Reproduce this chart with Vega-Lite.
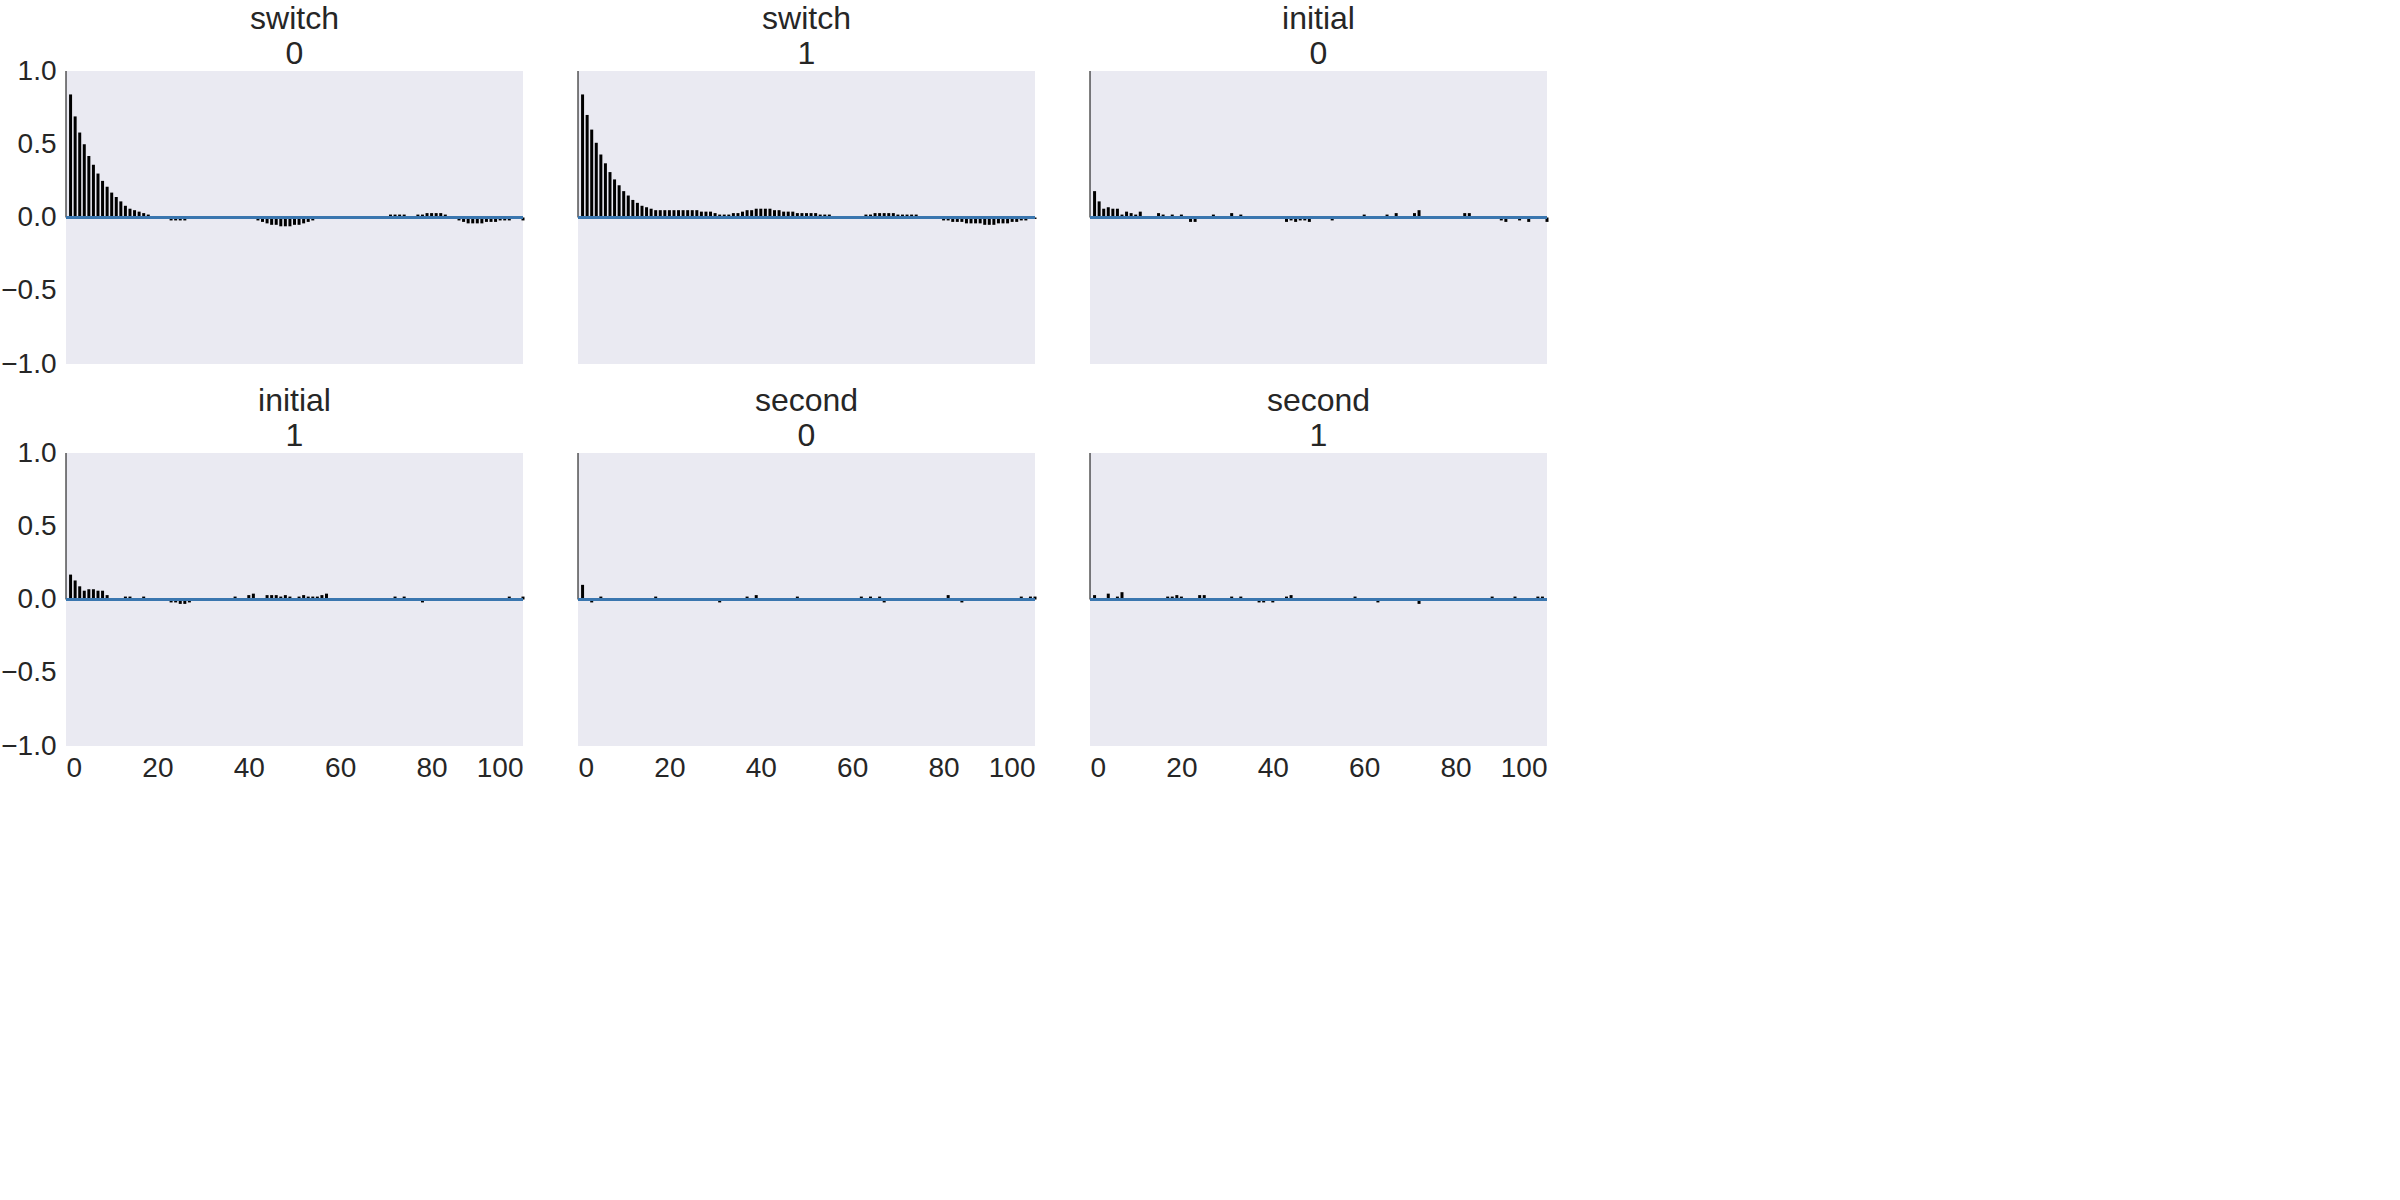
{
  "$schema": "https://vega.github.io/schema/vega-lite/v6.json",
  "padding": {"left": 0, "top": 2, "right": 10, "bottom": 0},
  "datasets": {
    "acf": [
{"p":"switch|0","l":0,"v":1},{"p":"switch|0","l":1,"v":0.84},{"p":"switch|0","l":2,"v":0.69},{"p":"switch|0","l":3,"v":0.58},{"p":"switch|0","l":4,"v":0.5},{"p":"switch|0","l":5,"v":0.42},{"p":"switch|0","l":6,"v":0.36},{"p":"switch|0","l":7,"v":0.3},{"p":"switch|0","l":8,"v":0.25},{"p":"switch|0","l":9,"v":0.21},{"p":"switch|0","l":10,"v":0.17},
{"p":"switch|0","l":11,"v":0.14},{"p":"switch|0","l":12,"v":0.11},{"p":"switch|0","l":13,"v":0.08},{"p":"switch|0","l":14,"v":0.06},{"p":"switch|0","l":15,"v":0.05},{"p":"switch|0","l":16,"v":0.04},{"p":"switch|0","l":17,"v":0.03},{"p":"switch|0","l":18,"v":0.02},{"p":"switch|0","l":19,"v":0.01},{"p":"switch|0","l":20,"v":0.01},
{"p":"switch|0","l":21,"v":0},{"p":"switch|0","l":22,"v":-0.01},{"p":"switch|0","l":23,"v":-0.02},{"p":"switch|0","l":24,"v":-0.02},{"p":"switch|0","l":25,"v":-0.02},{"p":"switch|0","l":26,"v":-0.02},{"p":"switch|0","l":27,"v":-0.01},{"p":"switch|0","l":28,"v":0},{"p":"switch|0","l":29,"v":0.01},{"p":"switch|0","l":30,"v":0.01},
{"p":"switch|0","l":31,"v":0.01},{"p":"switch|0","l":32,"v":0},{"p":"switch|0","l":33,"v":0},{"p":"switch|0","l":34,"v":0},{"p":"switch|0","l":35,"v":0},{"p":"switch|0","l":36,"v":0.01},{"p":"switch|0","l":37,"v":0.01},{"p":"switch|0","l":38,"v":0.01},{"p":"switch|0","l":39,"v":0},{"p":"switch|0","l":40,"v":0},
{"p":"switch|0","l":41,"v":-0.01},{"p":"switch|0","l":42,"v":-0.02},{"p":"switch|0","l":43,"v":-0.03},{"p":"switch|0","l":44,"v":-0.04},{"p":"switch|0","l":45,"v":-0.05},{"p":"switch|0","l":46,"v":-0.05},{"p":"switch|0","l":47,"v":-0.06},{"p":"switch|0","l":48,"v":-0.06},{"p":"switch|0","l":49,"v":-0.06},{"p":"switch|0","l":50,"v":-0.05},
{"p":"switch|0","l":51,"v":-0.05},{"p":"switch|0","l":52,"v":-0.04},{"p":"switch|0","l":53,"v":-0.03},{"p":"switch|0","l":54,"v":-0.02},{"p":"switch|0","l":55,"v":-0.01},{"p":"switch|0","l":56,"v":0},{"p":"switch|0","l":57,"v":0.01},{"p":"switch|0","l":58,"v":0.01},{"p":"switch|0","l":59,"v":0.01},{"p":"switch|0","l":60,"v":0},
{"p":"switch|0","l":61,"v":0},{"p":"switch|0","l":62,"v":0},{"p":"switch|0","l":63,"v":0},{"p":"switch|0","l":64,"v":0},{"p":"switch|0","l":65,"v":0},{"p":"switch|0","l":66,"v":0},{"p":"switch|0","l":67,"v":0},{"p":"switch|0","l":68,"v":0.01},{"p":"switch|0","l":69,"v":0.01},{"p":"switch|0","l":70,"v":0.01},
{"p":"switch|0","l":71,"v":0.02},{"p":"switch|0","l":72,"v":0.02},{"p":"switch|0","l":73,"v":0.02},{"p":"switch|0","l":74,"v":0.02},{"p":"switch|0","l":75,"v":0.01},{"p":"switch|0","l":76,"v":0.01},{"p":"switch|0","l":77,"v":0.02},{"p":"switch|0","l":78,"v":0.02},{"p":"switch|0","l":79,"v":0.03},{"p":"switch|0","l":80,"v":0.03},
{"p":"switch|0","l":81,"v":0.03},{"p":"switch|0","l":82,"v":0.03},{"p":"switch|0","l":83,"v":0.02},{"p":"switch|0","l":84,"v":0.01},{"p":"switch|0","l":85,"v":0},{"p":"switch|0","l":86,"v":-0.02},{"p":"switch|0","l":87,"v":-0.03},{"p":"switch|0","l":88,"v":-0.04},{"p":"switch|0","l":89,"v":-0.04},{"p":"switch|0","l":90,"v":-0.04},
{"p":"switch|0","l":91,"v":-0.04},{"p":"switch|0","l":92,"v":-0.03},{"p":"switch|0","l":93,"v":-0.03},{"p":"switch|0","l":94,"v":-0.03},{"p":"switch|0","l":95,"v":-0.02},{"p":"switch|0","l":96,"v":-0.02},{"p":"switch|0","l":97,"v":-0.02},{"p":"switch|0","l":98,"v":-0.01},{"p":"switch|0","l":99,"v":-0.01},{"p":"switch|0","l":100,"v":-0.02},

{"p":"switch|1","l":0,"v":1},{"p":"switch|1","l":1,"v":0.84},{"p":"switch|1","l":2,"v":0.7},{"p":"switch|1","l":3,"v":0.6},{"p":"switch|1","l":4,"v":0.51},{"p":"switch|1","l":5,"v":0.43},{"p":"switch|1","l":6,"v":0.37},{"p":"switch|1","l":7,"v":0.31},{"p":"switch|1","l":8,"v":0.26},{"p":"switch|1","l":9,"v":0.22},{"p":"switch|1","l":10,"v":0.18},
{"p":"switch|1","l":11,"v":0.15},{"p":"switch|1","l":12,"v":0.12},{"p":"switch|1","l":13,"v":0.1},{"p":"switch|1","l":14,"v":0.08},{"p":"switch|1","l":15,"v":0.07},{"p":"switch|1","l":16,"v":0.06},{"p":"switch|1","l":17,"v":0.05},{"p":"switch|1","l":18,"v":0.05},{"p":"switch|1","l":19,"v":0.05},{"p":"switch|1","l":20,"v":0.05},
{"p":"switch|1","l":21,"v":0.05},{"p":"switch|1","l":22,"v":0.05},{"p":"switch|1","l":23,"v":0.05},{"p":"switch|1","l":24,"v":0.05},{"p":"switch|1","l":25,"v":0.05},{"p":"switch|1","l":26,"v":0.05},{"p":"switch|1","l":27,"v":0.04},{"p":"switch|1","l":28,"v":0.04},{"p":"switch|1","l":29,"v":0.04},{"p":"switch|1","l":30,"v":0.03},
{"p":"switch|1","l":31,"v":0.02},{"p":"switch|1","l":32,"v":0.02},{"p":"switch|1","l":33,"v":0.02},{"p":"switch|1","l":34,"v":0.03},{"p":"switch|1","l":35,"v":0.03},{"p":"switch|1","l":36,"v":0.04},{"p":"switch|1","l":37,"v":0.05},{"p":"switch|1","l":38,"v":0.05},{"p":"switch|1","l":39,"v":0.06},{"p":"switch|1","l":40,"v":0.06},
{"p":"switch|1","l":41,"v":0.06},{"p":"switch|1","l":42,"v":0.06},{"p":"switch|1","l":43,"v":0.05},{"p":"switch|1","l":44,"v":0.05},{"p":"switch|1","l":45,"v":0.04},{"p":"switch|1","l":46,"v":0.04},{"p":"switch|1","l":47,"v":0.04},{"p":"switch|1","l":48,"v":0.03},{"p":"switch|1","l":49,"v":0.03},{"p":"switch|1","l":50,"v":0.03},
{"p":"switch|1","l":51,"v":0.03},{"p":"switch|1","l":52,"v":0.03},{"p":"switch|1","l":53,"v":0.02},{"p":"switch|1","l":54,"v":0.02},{"p":"switch|1","l":55,"v":0.02},{"p":"switch|1","l":56,"v":0.01},{"p":"switch|1","l":57,"v":0.01},{"p":"switch|1","l":58,"v":0.01},{"p":"switch|1","l":59,"v":0.01},{"p":"switch|1","l":60,"v":0.01},
{"p":"switch|1","l":61,"v":0.01},{"p":"switch|1","l":62,"v":0.01},{"p":"switch|1","l":63,"v":0.02},{"p":"switch|1","l":64,"v":0.02},{"p":"switch|1","l":65,"v":0.03},{"p":"switch|1","l":66,"v":0.03},{"p":"switch|1","l":67,"v":0.03},{"p":"switch|1","l":68,"v":0.03},{"p":"switch|1","l":69,"v":0.03},{"p":"switch|1","l":70,"v":0.02},
{"p":"switch|1","l":71,"v":0.02},{"p":"switch|1","l":72,"v":0.02},{"p":"switch|1","l":73,"v":0.02},{"p":"switch|1","l":74,"v":0.02},{"p":"switch|1","l":75,"v":0.01},{"p":"switch|1","l":76,"v":0.01},{"p":"switch|1","l":77,"v":0},{"p":"switch|1","l":78,"v":-0.01},{"p":"switch|1","l":79,"v":-0.01},{"p":"switch|1","l":80,"v":-0.02},
{"p":"switch|1","l":81,"v":-0.02},{"p":"switch|1","l":82,"v":-0.03},{"p":"switch|1","l":83,"v":-0.03},{"p":"switch|1","l":84,"v":-0.03},{"p":"switch|1","l":85,"v":-0.04},{"p":"switch|1","l":86,"v":-0.04},{"p":"switch|1","l":87,"v":-0.04},{"p":"switch|1","l":88,"v":-0.04},{"p":"switch|1","l":89,"v":-0.05},{"p":"switch|1","l":90,"v":-0.05},
{"p":"switch|1","l":91,"v":-0.05},{"p":"switch|1","l":92,"v":-0.04},{"p":"switch|1","l":93,"v":-0.04},{"p":"switch|1","l":94,"v":-0.04},{"p":"switch|1","l":95,"v":-0.03},{"p":"switch|1","l":96,"v":-0.03},{"p":"switch|1","l":97,"v":-0.02},{"p":"switch|1","l":98,"v":-0.02},{"p":"switch|1","l":99,"v":-0.01},{"p":"switch|1","l":100,"v":-0.01},

{"p":"initial|0","l":0,"v":1},{"p":"initial|0","l":1,"v":0.18},{"p":"initial|0","l":2,"v":0.11},{"p":"initial|0","l":3,"v":0.06},{"p":"initial|0","l":4,"v":0.07},{"p":"initial|0","l":5,"v":0.06},{"p":"initial|0","l":6,"v":0.06},{"p":"initial|0","l":7,"v":0.02},{"p":"initial|0","l":8,"v":0.04},{"p":"initial|0","l":9,"v":0.03},{"p":"initial|0","l":10,"v":0.02},
{"p":"initial|0","l":11,"v":0.04},{"p":"initial|0","l":12,"v":0.01},{"p":"initial|0","l":13,"v":-0.01},{"p":"initial|0","l":14,"v":0},{"p":"initial|0","l":15,"v":0.03},{"p":"initial|0","l":16,"v":0.02},{"p":"initial|0","l":17,"v":0},{"p":"initial|0","l":18,"v":0.02},{"p":"initial|0","l":19,"v":0.01},{"p":"initial|0","l":20,"v":0.02},
{"p":"initial|0","l":21,"v":0},{"p":"initial|0","l":22,"v":-0.03},{"p":"initial|0","l":23,"v":-0.03},{"p":"initial|0","l":24,"v":0.01},{"p":"initial|0","l":25,"v":0},{"p":"initial|0","l":26,"v":0},{"p":"initial|0","l":27,"v":0.02},{"p":"initial|0","l":28,"v":0},{"p":"initial|0","l":29,"v":0.01},{"p":"initial|0","l":30,"v":0},
{"p":"initial|0","l":31,"v":0.03},{"p":"initial|0","l":32,"v":-0.01},{"p":"initial|0","l":33,"v":0.02},{"p":"initial|0","l":34,"v":0},{"p":"initial|0","l":35,"v":0.01},{"p":"initial|0","l":36,"v":0},{"p":"initial|0","l":37,"v":0},{"p":"initial|0","l":38,"v":0.01},{"p":"initial|0","l":39,"v":0},{"p":"initial|0","l":40,"v":0},
{"p":"initial|0","l":41,"v":0},{"p":"initial|0","l":42,"v":0},{"p":"initial|0","l":43,"v":-0.03},{"p":"initial|0","l":44,"v":-0.02},{"p":"initial|0","l":45,"v":-0.03},{"p":"initial|0","l":46,"v":-0.02},{"p":"initial|0","l":47,"v":-0.02},{"p":"initial|0","l":48,"v":-0.03},{"p":"initial|0","l":49,"v":-0.01},{"p":"initial|0","l":50,"v":0.01},
{"p":"initial|0","l":51,"v":0},{"p":"initial|0","l":52,"v":0.01},{"p":"initial|0","l":53,"v":-0.02},{"p":"initial|0","l":54,"v":0},{"p":"initial|0","l":55,"v":0},{"p":"initial|0","l":56,"v":0.01},{"p":"initial|0","l":57,"v":0},{"p":"initial|0","l":58,"v":0},{"p":"initial|0","l":59,"v":0},{"p":"initial|0","l":60,"v":0.02},
{"p":"initial|0","l":61,"v":0.01},{"p":"initial|0","l":62,"v":0},{"p":"initial|0","l":63,"v":-0.01},{"p":"initial|0","l":64,"v":0.01},{"p":"initial|0","l":65,"v":0.02},{"p":"initial|0","l":66,"v":0},{"p":"initial|0","l":67,"v":0.03},{"p":"initial|0","l":68,"v":0},{"p":"initial|0","l":69,"v":0.01},{"p":"initial|0","l":70,"v":0},
{"p":"initial|0","l":71,"v":0.03},{"p":"initial|0","l":72,"v":0.05},{"p":"initial|0","l":73,"v":0.01},{"p":"initial|0","l":74,"v":0},{"p":"initial|0","l":75,"v":-0.01},{"p":"initial|0","l":76,"v":0},{"p":"initial|0","l":77,"v":0.01},{"p":"initial|0","l":78,"v":-0.01},{"p":"initial|0","l":79,"v":0},{"p":"initial|0","l":80,"v":0},
{"p":"initial|0","l":81,"v":0.01},{"p":"initial|0","l":82,"v":0.03},{"p":"initial|0","l":83,"v":0.03},{"p":"initial|0","l":84,"v":0},{"p":"initial|0","l":85,"v":0},{"p":"initial|0","l":86,"v":0},{"p":"initial|0","l":87,"v":-0.01},{"p":"initial|0","l":88,"v":0},{"p":"initial|0","l":89,"v":0.01},{"p":"initial|0","l":90,"v":-0.02},
{"p":"initial|0","l":91,"v":-0.03},{"p":"initial|0","l":92,"v":0},{"p":"initial|0","l":93,"v":0.01},{"p":"initial|0","l":94,"v":-0.02},{"p":"initial|0","l":95,"v":0},{"p":"initial|0","l":96,"v":-0.03},{"p":"initial|0","l":97,"v":0},{"p":"initial|0","l":98,"v":0.01},{"p":"initial|0","l":99,"v":0},{"p":"initial|0","l":100,"v":-0.03},

{"p":"initial|1","l":0,"v":1},{"p":"initial|1","l":1,"v":0.17},{"p":"initial|1","l":2,"v":0.13},{"p":"initial|1","l":3,"v":0.09},{"p":"initial|1","l":4,"v":0.06},{"p":"initial|1","l":5,"v":0.07},{"p":"initial|1","l":6,"v":0.07},{"p":"initial|1","l":7,"v":0.06},{"p":"initial|1","l":8,"v":0.06},{"p":"initial|1","l":9,"v":0.03},{"p":"initial|1","l":10,"v":0.01},
{"p":"initial|1","l":11,"v":0},{"p":"initial|1","l":12,"v":0.01},{"p":"initial|1","l":13,"v":0.02},{"p":"initial|1","l":14,"v":0.02},{"p":"initial|1","l":15,"v":0},{"p":"initial|1","l":16,"v":0.01},{"p":"initial|1","l":17,"v":0.02},{"p":"initial|1","l":18,"v":0.01},{"p":"initial|1","l":19,"v":0},{"p":"initial|1","l":20,"v":0.01},
{"p":"initial|1","l":21,"v":0},{"p":"initial|1","l":22,"v":0},{"p":"initial|1","l":23,"v":-0.02},{"p":"initial|1","l":24,"v":-0.02},{"p":"initial|1","l":25,"v":-0.03},{"p":"initial|1","l":26,"v":-0.03},{"p":"initial|1","l":27,"v":-0.02},{"p":"initial|1","l":28,"v":0.01},{"p":"initial|1","l":29,"v":0},{"p":"initial|1","l":30,"v":0},
{"p":"initial|1","l":31,"v":0.01},{"p":"initial|1","l":32,"v":0},{"p":"initial|1","l":33,"v":0},{"p":"initial|1","l":34,"v":0.01},{"p":"initial|1","l":35,"v":0},{"p":"initial|1","l":36,"v":0.01},{"p":"initial|1","l":37,"v":0.02},{"p":"initial|1","l":38,"v":-0.01},{"p":"initial|1","l":39,"v":0},{"p":"initial|1","l":40,"v":0.03},
{"p":"initial|1","l":41,"v":0.04},{"p":"initial|1","l":42,"v":0},{"p":"initial|1","l":43,"v":0.01},{"p":"initial|1","l":44,"v":0.03},{"p":"initial|1","l":45,"v":0.03},{"p":"initial|1","l":46,"v":0.03},{"p":"initial|1","l":47,"v":0.02},{"p":"initial|1","l":48,"v":0.03},{"p":"initial|1","l":49,"v":0.02},{"p":"initial|1","l":50,"v":0},
{"p":"initial|1","l":51,"v":0.02},{"p":"initial|1","l":52,"v":0.03},{"p":"initial|1","l":53,"v":0.02},{"p":"initial|1","l":54,"v":0.02},{"p":"initial|1","l":55,"v":0.02},{"p":"initial|1","l":56,"v":0.03},{"p":"initial|1","l":57,"v":0.04},{"p":"initial|1","l":58,"v":0.01},{"p":"initial|1","l":59,"v":0},{"p":"initial|1","l":60,"v":0},
{"p":"initial|1","l":61,"v":-0.01},{"p":"initial|1","l":62,"v":0},{"p":"initial|1","l":63,"v":0},{"p":"initial|1","l":64,"v":0.01},{"p":"initial|1","l":65,"v":0},{"p":"initial|1","l":66,"v":-0.01},{"p":"initial|1","l":67,"v":0},{"p":"initial|1","l":68,"v":0.01},{"p":"initial|1","l":69,"v":0},{"p":"initial|1","l":70,"v":0},
{"p":"initial|1","l":71,"v":0},{"p":"initial|1","l":72,"v":0.02},{"p":"initial|1","l":73,"v":0.01},{"p":"initial|1","l":74,"v":0.02},{"p":"initial|1","l":75,"v":0.01},{"p":"initial|1","l":76,"v":0},{"p":"initial|1","l":77,"v":0},{"p":"initial|1","l":78,"v":-0.02},{"p":"initial|1","l":79,"v":0.01},{"p":"initial|1","l":80,"v":0},
{"p":"initial|1","l":81,"v":0},{"p":"initial|1","l":82,"v":0},{"p":"initial|1","l":83,"v":0.01},{"p":"initial|1","l":84,"v":0},{"p":"initial|1","l":85,"v":-0.01},{"p":"initial|1","l":86,"v":0},{"p":"initial|1","l":87,"v":0.01},{"p":"initial|1","l":88,"v":0},{"p":"initial|1","l":89,"v":0},{"p":"initial|1","l":90,"v":0},
{"p":"initial|1","l":91,"v":-0.01},{"p":"initial|1","l":92,"v":0},{"p":"initial|1","l":93,"v":0},{"p":"initial|1","l":94,"v":0.01},{"p":"initial|1","l":95,"v":0},{"p":"initial|1","l":96,"v":0.01},{"p":"initial|1","l":97,"v":0.02},{"p":"initial|1","l":98,"v":0},{"p":"initial|1","l":99,"v":0.01},{"p":"initial|1","l":100,"v":0.02},

{"p":"second|0","l":0,"v":1},{"p":"second|0","l":1,"v":0.1},{"p":"second|0","l":2,"v":0},{"p":"second|0","l":3,"v":-0.02},{"p":"second|0","l":4,"v":0},{"p":"second|0","l":5,"v":0.02},{"p":"second|0","l":6,"v":0},{"p":"second|0","l":7,"v":0},{"p":"second|0","l":8,"v":0.01},{"p":"second|0","l":9,"v":-0.01},{"p":"second|0","l":10,"v":0},
{"p":"second|0","l":11,"v":0.01},{"p":"second|0","l":12,"v":0},{"p":"second|0","l":13,"v":0},{"p":"second|0","l":14,"v":-0.01},{"p":"second|0","l":15,"v":0.01},{"p":"second|0","l":16,"v":0},{"p":"second|0","l":17,"v":0.02},{"p":"second|0","l":18,"v":0.01},{"p":"second|0","l":19,"v":0},{"p":"second|0","l":20,"v":-0.01},
{"p":"second|0","l":21,"v":0.01},{"p":"second|0","l":22,"v":0},{"p":"second|0","l":23,"v":0},{"p":"second|0","l":24,"v":0},{"p":"second|0","l":25,"v":-0.01},{"p":"second|0","l":26,"v":0},{"p":"second|0","l":27,"v":0.01},{"p":"second|0","l":28,"v":0},{"p":"second|0","l":29,"v":0},{"p":"second|0","l":30,"v":0},
{"p":"second|0","l":31,"v":-0.02},{"p":"second|0","l":32,"v":0},{"p":"second|0","l":33,"v":0.01},{"p":"second|0","l":34,"v":0.01},{"p":"second|0","l":35,"v":0},{"p":"second|0","l":36,"v":-0.01},{"p":"second|0","l":37,"v":0.02},{"p":"second|0","l":38,"v":0.01},{"p":"second|0","l":39,"v":0.03},{"p":"second|0","l":40,"v":0.01},
{"p":"second|0","l":41,"v":0.01},{"p":"second|0","l":42,"v":0},{"p":"second|0","l":43,"v":0},{"p":"second|0","l":44,"v":-0.01},{"p":"second|0","l":45,"v":0.01},{"p":"second|0","l":46,"v":0},{"p":"second|0","l":47,"v":0},{"p":"second|0","l":48,"v":0.02},{"p":"second|0","l":49,"v":0},{"p":"second|0","l":50,"v":0},
{"p":"second|0","l":51,"v":0.01},{"p":"second|0","l":52,"v":0},{"p":"second|0","l":53,"v":0},{"p":"second|0","l":54,"v":-0.01},{"p":"second|0","l":55,"v":-0.01},{"p":"second|0","l":56,"v":0},{"p":"second|0","l":57,"v":0.01},{"p":"second|0","l":58,"v":0},{"p":"second|0","l":59,"v":0.01},{"p":"second|0","l":60,"v":0},
{"p":"second|0","l":61,"v":0.01},{"p":"second|0","l":62,"v":0.02},{"p":"second|0","l":63,"v":0.01},{"p":"second|0","l":64,"v":0.02},{"p":"second|0","l":65,"v":0},{"p":"second|0","l":66,"v":0.02},{"p":"second|0","l":67,"v":-0.02},{"p":"second|0","l":68,"v":0.01},{"p":"second|0","l":69,"v":0},{"p":"second|0","l":70,"v":0.01},
{"p":"second|0","l":71,"v":0},{"p":"second|0","l":72,"v":0.01},{"p":"second|0","l":73,"v":0},{"p":"second|0","l":74,"v":-0.01},{"p":"second|0","l":75,"v":0.01},{"p":"second|0","l":76,"v":0},{"p":"second|0","l":77,"v":0.01},{"p":"second|0","l":78,"v":0},{"p":"second|0","l":79,"v":0},{"p":"second|0","l":80,"v":0},
{"p":"second|0","l":81,"v":0.03},{"p":"second|0","l":82,"v":0},{"p":"second|0","l":83,"v":-0.01},{"p":"second|0","l":84,"v":-0.02},{"p":"second|0","l":85,"v":0},{"p":"second|0","l":86,"v":0.01},{"p":"second|0","l":87,"v":0},{"p":"second|0","l":88,"v":0},{"p":"second|0","l":89,"v":0.01},{"p":"second|0","l":90,"v":0},
{"p":"second|0","l":91,"v":0},{"p":"second|0","l":92,"v":0.01},{"p":"second|0","l":93,"v":0},{"p":"second|0","l":94,"v":-0.01},{"p":"second|0","l":95,"v":0},{"p":"second|0","l":96,"v":0},{"p":"second|0","l":97,"v":0.02},{"p":"second|0","l":98,"v":0},{"p":"second|0","l":99,"v":0.02},{"p":"second|0","l":100,"v":0.02},

{"p":"second|1","l":0,"v":1},{"p":"second|1","l":1,"v":0.03},{"p":"second|1","l":2,"v":0.01},{"p":"second|1","l":3,"v":0},{"p":"second|1","l":4,"v":0.04},{"p":"second|1","l":5,"v":0.01},{"p":"second|1","l":6,"v":0.02},{"p":"second|1","l":7,"v":0.05},{"p":"second|1","l":8,"v":0},{"p":"second|1","l":9,"v":-0.01},{"p":"second|1","l":10,"v":0},
{"p":"second|1","l":11,"v":0},{"p":"second|1","l":12,"v":0.01},{"p":"second|1","l":13,"v":0},{"p":"second|1","l":14,"v":0},{"p":"second|1","l":15,"v":0},{"p":"second|1","l":16,"v":0.01},{"p":"second|1","l":17,"v":0.02},{"p":"second|1","l":18,"v":0.02},{"p":"second|1","l":19,"v":0.03},{"p":"second|1","l":20,"v":0.02},
{"p":"second|1","l":21,"v":0},{"p":"second|1","l":22,"v":0.01},{"p":"second|1","l":23,"v":0},{"p":"second|1","l":24,"v":0.03},{"p":"second|1","l":25,"v":0.03},{"p":"second|1","l":26,"v":0},{"p":"second|1","l":27,"v":0.01},{"p":"second|1","l":28,"v":0},{"p":"second|1","l":29,"v":0.01},{"p":"second|1","l":30,"v":0},
{"p":"second|1","l":31,"v":0.02},{"p":"second|1","l":32,"v":0},{"p":"second|1","l":33,"v":0.02},{"p":"second|1","l":34,"v":-0.01},{"p":"second|1","l":35,"v":0.01},{"p":"second|1","l":36,"v":0},{"p":"second|1","l":37,"v":-0.02},{"p":"second|1","l":38,"v":-0.02},{"p":"second|1","l":39,"v":-0.01},{"p":"second|1","l":40,"v":-0.02},
{"p":"second|1","l":41,"v":0},{"p":"second|1","l":42,"v":0.01},{"p":"second|1","l":43,"v":0.02},{"p":"second|1","l":44,"v":0.03},{"p":"second|1","l":45,"v":0.01},{"p":"second|1","l":46,"v":0},{"p":"second|1","l":47,"v":0.01},{"p":"second|1","l":48,"v":0},{"p":"second|1","l":49,"v":0},{"p":"second|1","l":50,"v":0.01},
{"p":"second|1","l":51,"v":0},{"p":"second|1","l":52,"v":-0.01},{"p":"second|1","l":53,"v":0},{"p":"second|1","l":54,"v":0.01},{"p":"second|1","l":55,"v":0},{"p":"second|1","l":56,"v":0},{"p":"second|1","l":57,"v":0.01},{"p":"second|1","l":58,"v":0.02},{"p":"second|1","l":59,"v":0},{"p":"second|1","l":60,"v":0.01},
{"p":"second|1","l":61,"v":0},{"p":"second|1","l":62,"v":0.01},{"p":"second|1","l":63,"v":-0.02},{"p":"second|1","l":64,"v":0},{"p":"second|1","l":65,"v":-0.01},{"p":"second|1","l":66,"v":0},{"p":"second|1","l":67,"v":0.01},{"p":"second|1","l":68,"v":0},{"p":"second|1","l":69,"v":0},{"p":"second|1","l":70,"v":0.01},
{"p":"second|1","l":71,"v":0.01},{"p":"second|1","l":72,"v":-0.03},{"p":"second|1","l":73,"v":0},{"p":"second|1","l":74,"v":0.01},{"p":"second|1","l":75,"v":0},{"p":"second|1","l":76,"v":0.01},{"p":"second|1","l":77,"v":0},{"p":"second|1","l":78,"v":0.01},{"p":"second|1","l":79,"v":0.01},{"p":"second|1","l":80,"v":0.01},
{"p":"second|1","l":81,"v":0},{"p":"second|1","l":82,"v":0.01},{"p":"second|1","l":83,"v":0.01},{"p":"second|1","l":84,"v":0},{"p":"second|1","l":85,"v":0},{"p":"second|1","l":86,"v":0.01},{"p":"second|1","l":87,"v":-0.01},{"p":"second|1","l":88,"v":0.02},{"p":"second|1","l":89,"v":0},{"p":"second|1","l":90,"v":0.01},
{"p":"second|1","l":91,"v":0},{"p":"second|1","l":92,"v":0.01},{"p":"second|1","l":93,"v":0.02},{"p":"second|1","l":94,"v":0},{"p":"second|1","l":95,"v":-0.01},{"p":"second|1","l":96,"v":0},{"p":"second|1","l":97,"v":0.01},{"p":"second|1","l":98,"v":0.02},{"p":"second|1","l":99,"v":0.02},{"p":"second|1","l":100,"v":0}
    ]
  },
  "data": {"name": "acf"},
  "facet": {
    "field": "p",
    "type": "nominal",
    "sort": ["switch|0", "switch|1", "initial|0", "initial|1", "second|0", "second|1"],
    "header": {
      "title": null,
      "labelExpr": "split(datum.value, '|')",
      "labelFontSize": 32,
      "labelLineHeight": 35,
      "labelColor": "#262626",
      "labelFont": "Liberation Sans",
      "labelBaseline": "top",
      "labelPadding": 0
    }
  },
  "columns": 3,
  "spacing": {"column": 51, "row": 20},
  "spec": {
    "width": 457,
    "height": 293,
    "layer": [
      {
        "mark": {"type": "rule", "color": "black"},
        "encoding": {
          "x": {
            "field": "l",
            "type": "quantitative",
            "scale": {"domain": [0, 100], "nice": false},
            "axis": {"values": [0, 20, 40, 60, 80, 100], "title": null}
          },
          "y": {
            "field": "v",
            "type": "quantitative",
            "scale": {"domain": [-1, 1], "nice": false},
            "axis": {"values": [-1, -0.5, 0, 0.5, 1], "format": ".1f", "title": null}
          },
          "y2": {"datum": 0},
          "size": {"condition": {"test": "datum.l == 0", "value": 1}, "value": 3}
        }
      },
      {
        "mark": {"type": "rule", "color": "#3a76af", "strokeWidth": 3},
        "encoding": {"y": {"datum": 0}}
      }
    ]
  },
  "config": {
    "font": "Liberation Sans",
    "view": {"fill": "#eaeaf2", "stroke": null},
    "axis": {
      "domain": false,
      "ticks": false,
      "grid": false,
      "labelFontSize": 28,
      "labelColor": "#262626",
      "labelPadding": 8
    }
  }
}
